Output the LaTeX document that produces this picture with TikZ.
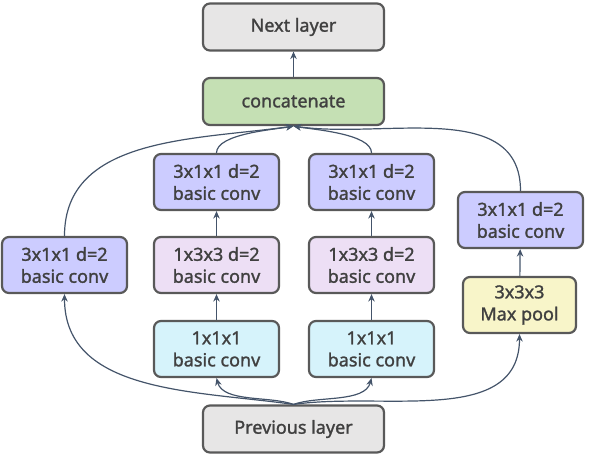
\documentclass[tikz,border=0pt]{standalone}
\usepackage{fontspec}
\setmainfont{Noto Sans}
\newfontfamily\boxfont[FakeBold=1.4]{Noto Sans}
\usetikzlibrary{arrows.meta}
\definecolor{boxline}{HTML}{595959}
\definecolor{arrowcol}{HTML}{44546A}
\definecolor{textgray}{HTML}{404040}
\definecolor{layergray}{HTML}{E7E6E6}
\definecolor{concatgreen}{HTML}{C5E0B4}
\definecolor{convblue}{HTML}{CCCCFF}
\definecolor{convpink}{HTML}{EDDFF5}
\definecolor{convcyan}{HTML}{D6F3FB}
\definecolor{poolyellow}{HTML}{F8F5C9}

\tikzset{
  blk/.style={draw=boxline,line width=2.2pt,rounded corners=7pt,align=center,
    text=textgray,font=\boxfont\fontsize{18}{22}\selectfont\bfseries,inner sep=0pt,
    minimum width=125pt,minimum height=56pt},
  layer/.style={blk,minimum width=181pt,minimum height=47pt},
  arr/.style={draw=arrowcol,line width=1.2pt,-{Stealth[length=7.5pt,width=6.5pt]}}
}

\begin{document}
\begin{tikzpicture}[x=1pt,y=-1pt]
\useasboundingbox (0,0) rectangle (596,455);
% top of the block
\node[layer,fill=layergray] (next) at (293.5,27) {Next layer};
\node[layer,fill=concatgreen] (concat) at (293.5,101.5) {concatenate};

% branch 1
\node[blk,fill=convblue] (b1conv) at (64.5,265) {3x1x1 d=2\\basic conv};

% branch 2
\node[blk,fill=convcyan] (b2red) at (216.5,349) {1x1x1\\basic conv};
\node[blk,fill=convpink] (b2mid) at (216.5,265) {1x3x3 d=2\\basic conv};
\node[blk,fill=convblue] (b2top) at (216.5,182) {3x1x1 d=2\\basic conv};

% branch 3
\node[blk,fill=convcyan] (b3red) at (371.5,349) {1x1x1\\basic conv};
\node[blk,fill=convpink] (b3mid) at (371.5,265) {1x3x3 d=2\\basic conv};
\node[blk,fill=convblue] (b3top) at (371.5,182) {3x1x1 d=2\\basic conv};

% branch 4
\node[blk,fill=poolyellow,minimum width=113pt] (pool) at (519.5,305) {3x3x3\\Max pool};
\node[blk,fill=convblue] (b4conv) at (520.5,220) {3x1x1 d=2\\basic conv};

% bottom
\node[layer,fill=layergray] (prev) at (293.5,429) {Previous layer};

% from previous layer
\draw[arr] (prev.north) to[out=172,in=-90] (b1conv.south);
\draw[arr] (prev.north) to[out=160,in=-75,looseness=0.8] (b2red.south);
\draw[arr] (prev.north) to[out=20,in=-105,looseness=0.8] (b3red.south);
\draw[arr] (prev.north) to[out=8,in=-90] (pool.south);

% inside the branches
\draw[arr] (b2red) -- (b2mid);
\draw[arr] (b2mid) -- (b2top);
\draw[arr] (b3red) -- (b3mid);
\draw[arr] (b3mid) -- (b3top);
\draw[arr] (pool) -- (b4conv);

% into concatenate
\draw[arr] (b1conv.north) to[out=90,in=-172] (concat.south);
\draw[arr] (b2top.north) to[out=90,in=-170,looseness=0.6] (concat.south);
\draw[arr] (b3top.north) to[out=90,in=-10,looseness=0.6] (concat.south);
\draw[arr] (b4conv.north) to[out=90,in=-8] (concat.south);
\draw[arr] (concat) -- (next);
\end{tikzpicture}
\end{document}
